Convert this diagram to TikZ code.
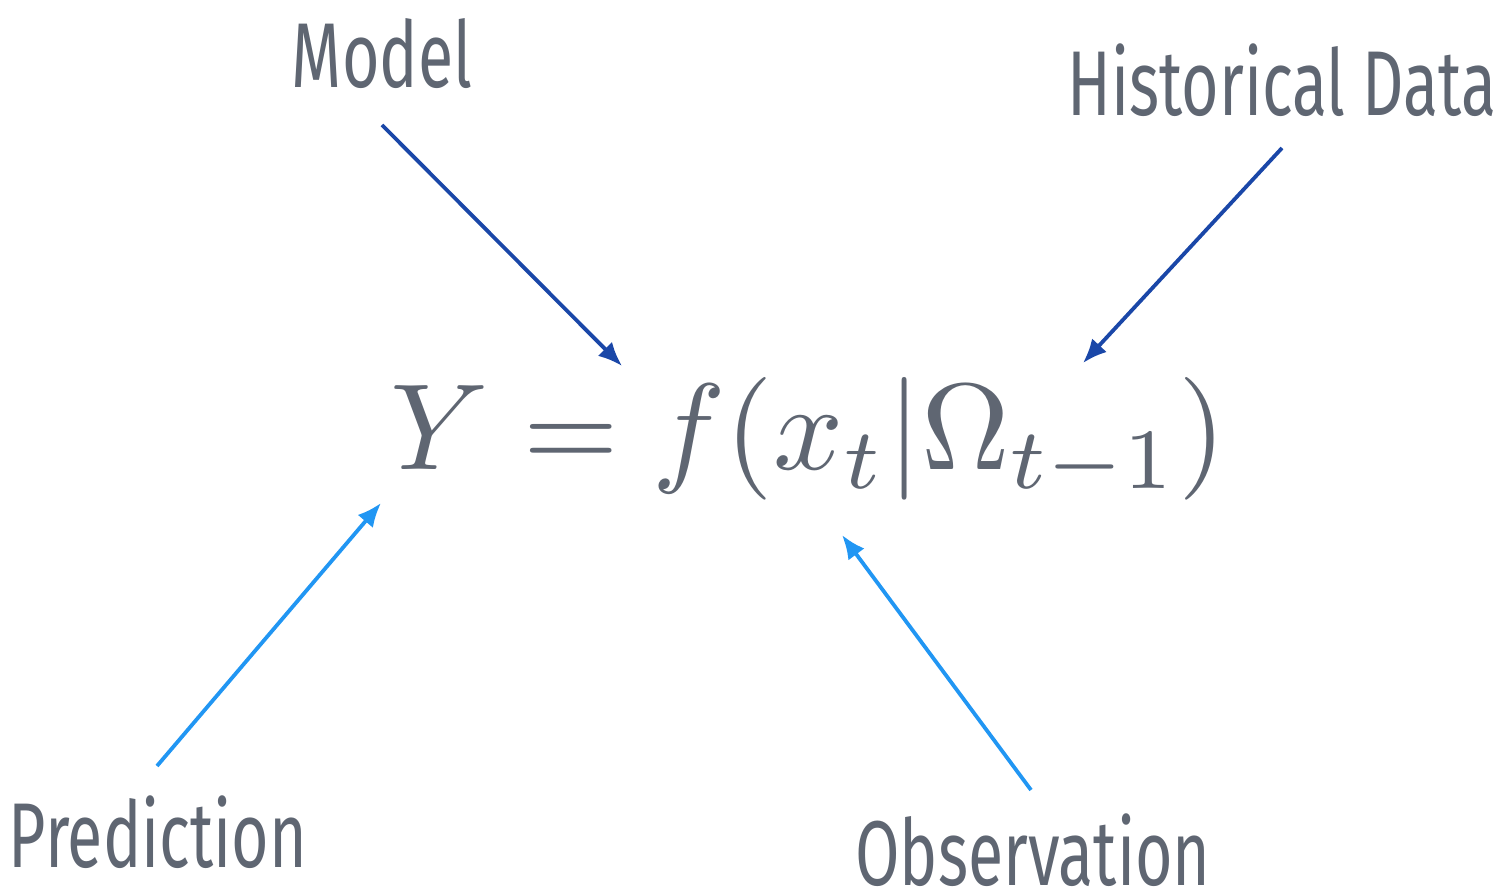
\documentclass[tikz,border=0pt]{standalone}
\usepackage{fontspec}
\usepackage{amsmath}
\usepackage{graphicx}
\usetikzlibrary{arrows.meta}
\newfontfamily\labfont[FakeStretch=0.70]{Fira Sans}
\definecolor{txtgray}{HTML}{5F6672}
\definecolor{darkarrow}{HTML}{1A47A8}
\definecolor{lightarrow}{HTML}{2196F3}
\tikzset{
  lbl/.style={text=txtgray, font=\labfont\fontsize{46}{52}\selectfont, inner sep=0pt, anchor=center},
  arr/.style={line width=1.9pt, -{Latex[length=12pt,width=10pt]}},
  darr/.style={arr, draw=darkarrow},
  larr/.style={arr, draw=lightarrow},
}
\begin{document}
\begin{tikzpicture}[x=0.5pt,y=-0.5pt]
\useasboundingbox (0,0) rectangle (1500,892);
\node[text=txtgray, inner sep=0pt, anchor=base west] (eq) at (390,470) {\resizebox{418pt}{!}{$Y = f(x_t|\Omega_{t-1})$}};
\node[lbl] (model) at (382,54) {Model};
\node[lbl] (hist) at (1282,80) {Historical Data};
\node[lbl] (pred) at (158,832) {Prediction};
\node[lbl] (obs) at (1033,850) {Observation};
\coordinate (m1) at (382,125);
\coordinate (m2) at (622,366);
\coordinate (h1) at (1282,148);
\coordinate (h2) at (1083,363);
\coordinate (p1) at (157,766);
\coordinate (p2) at (381,503);
\coordinate (o1) at (1031,790);
\coordinate (o2) at (842,535);
\draw[darr] (m1) -- (m2);
\draw[darr] (h1) -- (h2);
\draw[larr] (p1) -- (p2);
\draw[larr] (o1) -- (o2);
\end{tikzpicture}
\end{document}
